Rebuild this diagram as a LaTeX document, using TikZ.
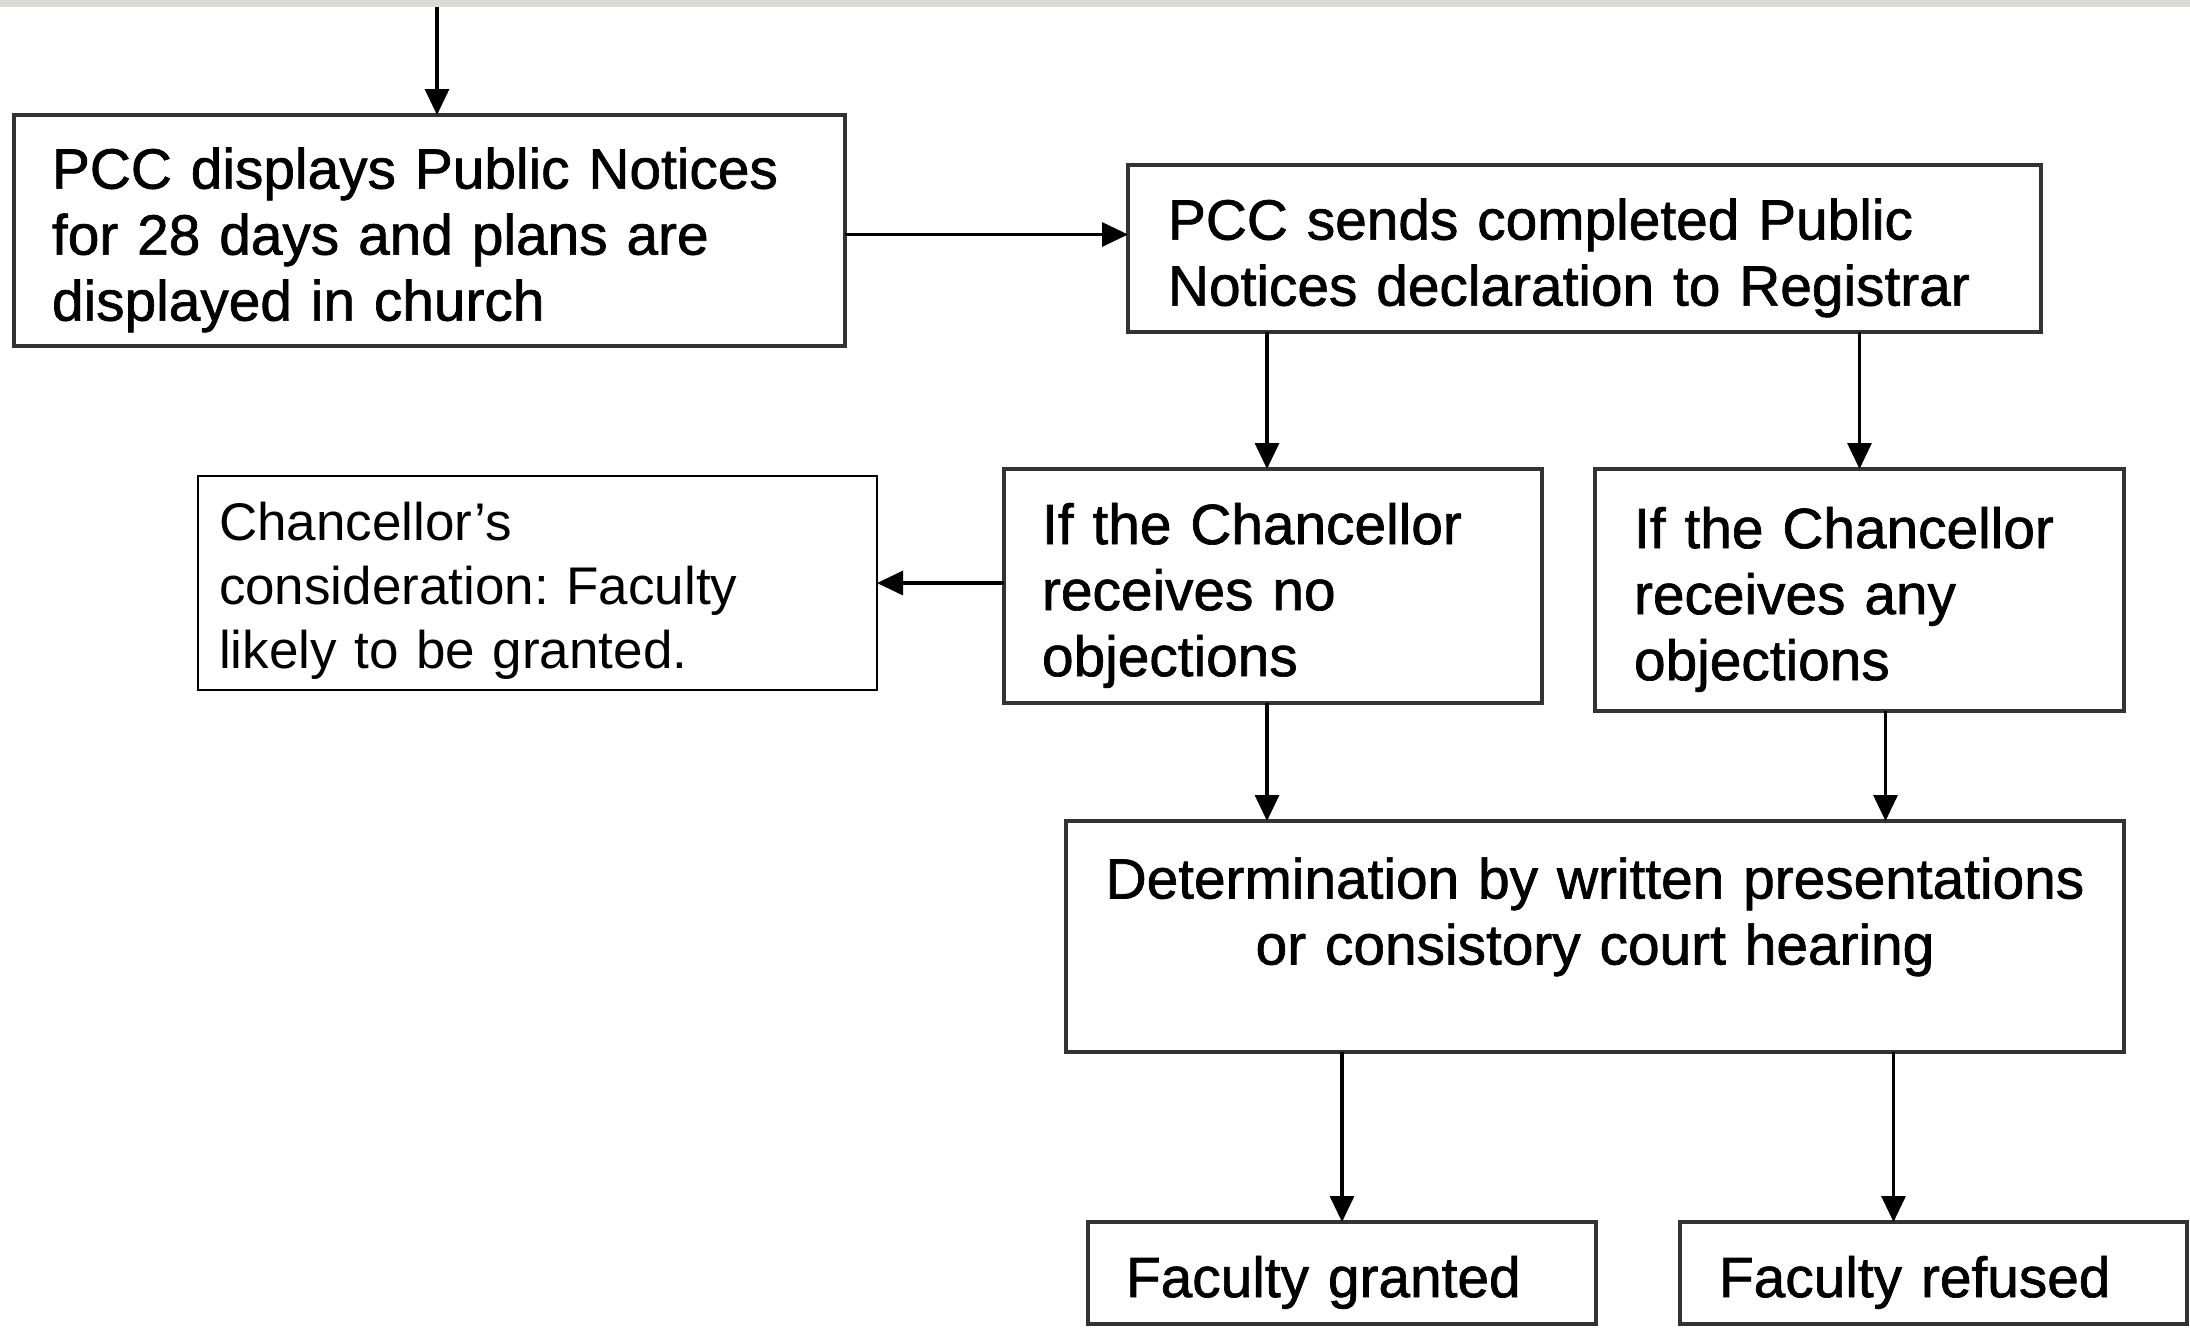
\documentclass[tikz,border=0pt]{standalone}
\usepackage{fontspec}
\setmainfont{Liberation Sans}
\newfontfamily\stagefont{Liberation Sans}[FakeBold=1.2]
\usepackage{xcolor}
\usetikzlibrary{arrows.meta,positioning}
\frenchspacing

\definecolor{boxline}{HTML}{333333}
\definecolor{topbar}{HTML}{DADAD6}

\tikzset{
  stage/.style={draw=boxline, line width=2pt, outer sep=0pt, align=left, inner xsep=19pt,
    font=\stagefont\fontsize{28.4pt}{33pt}\selectfont,
    execute at begin node={\rule{0pt}{30pt}}},
  note/.style={draw=black, line width=0.9pt, outer sep=0pt, align=left, inner xsep=10.5pt,
    font=\fontsize{26.5pt}{32pt}\selectfont,
    execute at begin node={\rule{0pt}{26.5pt}}},
}

\begin{document}
\begin{tikzpicture}[->, >={Triangle[length=13pt,width=12pt]}, line width=1.6pt]
  \useasboundingbox (0,0) rectangle (1095pt,-665pt);
  \fill[topbar, -] (0,0) rectangle (1095pt,-3.5pt);

  \node[stage, text width=377.5pt, minimum height=115.5pt, anchor=north west] (display) at (7pt,-57.5pt)
       {PCC displays Public Notices\\for 28 days and plans are\\displayed in church};
  \node[stage, inner xsep=20pt, text width=416.5pt, minimum height=83.5pt]     (sends)   [below right=25pt and 141.5pt of display.north east]
       {PCC sends completed Public\\Notices declaration to Registrar};
  \node[stage, text width=231pt, minimum height=117pt]                         (noobj)   [below right=68.5pt and -62pt of sends.south west]
       {If the Chancellor\\receives no\\objections};
  \node[stage, inner xsep=19.5pt, text width=225.5pt, minimum height=121pt]    (anyobj)  [below right=0pt and 26.5pt of noobj.north east]
       {If the Chancellor\\receives any\\objections};
  \node[note, text width=318.5pt, minimum height=107pt]                        (consider) [below left=3.5pt and 63.5pt of noobj.north west]
       {Chancellor’s\\consideration: Faculty\\likely to be granted.};
  \node[stage, align=center, inner xsep=10pt, text width=509pt, minimum height=115.5pt, execute at begin node={}]
                                                                               (determ)  [below right=59pt and 31pt of noobj.south west]
       {Determination by written presentations\\or consistory court hearing\\[2pt]\mbox{}};
  \node[stage, text width=216pt, minimum height=51pt]                          (granted) [below right=85pt and 11pt of determ.south west]
       {Faculty granted};
  \node[stage, inner xsep=19.5pt, text width=214.5pt, minimum height=51pt]     (refused) [below right=0pt and 42pt of granted.north east]
       {Faculty refused};

  \coordinate (feed)    at (218.5pt,-3.5pt);
  \coordinate (across)  at ([yshift=-2pt]display.east);
  \coordinate (nodrop)  at ([xshift=-3pt]noobj.north);
  \coordinate (anydrop) at ([xshift=13pt]anyobj.south);
  \coordinate (refdrop) at ([xshift=-20pt]refused.north);

  \path (feed)                         edge (feed |- display.north)
        (across)                       edge (across -| sends.west)
        (sends.south -| nodrop)        edge (nodrop)
        (sends.south -| anyobj.north)  edge (anyobj.north)
        (noobj.west |- consider.east)  edge (consider.east)
        (nodrop |- noobj.south)        edge (nodrop |- determ.north)
        (anydrop)                      edge (anydrop |- determ.north)
        (granted.north |- determ.south) edge (granted.north)
        (refdrop |- determ.south)      edge (refdrop)
        ;
\end{tikzpicture}
\end{document}
